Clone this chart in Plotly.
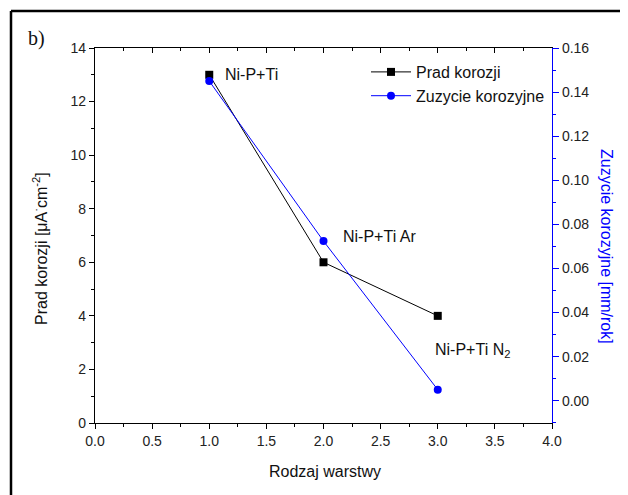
import plotly.graph_objects as go

layer_x = [1, 2, 3]
prad_korozji = [13.0, 6.0, 4.0]
zuzycie = [0.145, 0.0724, 0.005]
labels = ["Ni-P+Ti", "Ni-P+Ti Ar", "Ni-P+Ti N<sub>2</sub>"]
label_x = [1.12, 2.15, 2.96]
label_y = [13.0, 6.95, 2.7]

FONT = "Liberation Sans, Arial, sans-serif"
OFF = 8  # page body margin
W, H = 628 - OFF, 495 - OFF
# plot area in window pixels: x 95..552, y 48..423
L, T = 95 - OFF, 48 - OFF
R = (628 - OFF) - (552 - OFF)
B = (495 - OFF) - (423 - OFF)
pw, ph = 552 - 95, 423 - 48


def px(x):
    return (x - 95) / pw


def py(y):
    return (423 - y) / ph


fig = go.Figure()
fig.add_trace(go.Scatter(x=layer_x, y=prad_korozji, name="Prad korozji",
                         mode="lines+markers", line=dict(color="black", width=1),
                         marker=dict(symbol="square", size=8, color="black")))
fig.add_trace(go.Scatter(x=layer_x, y=zuzycie, name="Zuzycie korozyjne", yaxis="y2",
                         mode="lines+markers", line=dict(color="#0000ff", width=1),
                         marker=dict(symbol="circle", size=8, color="#0000ff")))
# invisible trace to activate top axis
fig.add_trace(go.Scatter(x=[0], y=[0], xaxis="x2", mode="markers",
                         marker=dict(opacity=0), showlegend=False, hoverinfo="skip"))

for lx, ly, t in zip(label_x, label_y, labels):
    fig.add_annotation(x=lx, y=ly, text=t, showarrow=False, xanchor="left",
                       yanchor="middle", font=dict(family=FONT, size=16, color="#111"))

fig.add_annotation(x=px(40), y=py(249), xref="paper", yref="paper", textangle=-90,
                   xanchor="center", yanchor="middle",
                   text="Prad korozji [μA<sup>·</sup>cm<sup>-2</sup>]", showarrow=False,
                   font=dict(family=FONT, size=16, color="#111"))
fig.add_annotation(x=px(607), y=py(246), xref="paper", yref="paper", textangle=90,
                   xanchor="center", yanchor="middle",
                   text="Zuzycie korozyjne [mm/rok]", showarrow=False,
                   font=dict(family=FONT, size=16, color="#0000ff"))
fig.add_annotation(x=px(325), y=py(471), xref="paper", yref="paper",
                   xanchor="center", yanchor="middle",
                   text="Rodzaj warstwy", showarrow=False,
                   font=dict(family=FONT, size=16, color="#111"))
fig.add_annotation(x=px(26), y=py(38), xref="paper", yref="paper", xanchor="left",
                   yanchor="middle", text="b)", showarrow=False,
                   font=dict(family="Liberation Serif, Times New Roman, serif", size=20, color="#111"))

# outer frame (left and top)
fig.add_shape(type="line", xref="paper", yref="paper", x0=px(11), x1=px(11), y0=py(11), y1=py(500),
              line=dict(color="black", width=2.5))
fig.add_shape(type="line", xref="paper", yref="paper", x0=px(11), x1=px(640), y0=py(11), y1=py(11),
              line=dict(color="black", width=2.5))

axis_common = dict(showgrid=False, zeroline=False, showline=True, linewidth=1.2,
                   tickfont=dict(family=FONT, size=14, color="#222"))

fig.update_layout(
    width=W, height=H,
    margin=dict(l=L, r=R, t=T, b=B, autoexpand=False),
    paper_bgcolor="white", plot_bgcolor="white",
    font=dict(family=FONT),
    showlegend=True,
    legend=dict(x=px(366), y=py(55), xanchor="left", yanchor="top",
                bgcolor="rgba(0,0,0,0)", font=dict(family=FONT, size=16, color="#111"),
                tracegroupgap=0, itemwidth=40),
    xaxis=dict(range=[0, 4], dtick=0.5, tick0=0, tickformat=".1f", ticks="outside",
               ticklen=5, linecolor="black", tickcolor="black",
               minor=dict(dtick=0.25, ticks="outside", ticklen=3, tickcolor="black"),
               **axis_common),
    xaxis2=dict(range=[0, 4], overlaying="x", side="top", anchor="y", dtick=0.5, tick0=0,
                ticks="inside", ticklen=5, showticklabels=False, linecolor="black",
                tickcolor="black", showgrid=False, zeroline=False, showline=True, linewidth=1.2,
                minor=dict(dtick=0.25, ticks="inside", ticklen=3, tickcolor="black")),
    yaxis=dict(range=[0, 14], dtick=2, tick0=0, ticks="outside", ticklen=5,
               linecolor="black", tickcolor="black",
               minor=dict(dtick=1, ticks="outside", ticklen=3, tickcolor="black"),
               **axis_common),
    yaxis2=dict(range=[-0.0101, 0.16], overlaying="y", side="right", anchor="x",
                dtick=0.02, tick0=0, tickformat=".2f", ticks="outside", ticklen=6,
                linecolor="#0000ff", tickcolor="#0000ff",
                minor=dict(dtick=0.01, ticks="outside", ticklen=3, tickcolor="#0000ff"),
                **axis_common),
)

fig.write_html("out.html")
